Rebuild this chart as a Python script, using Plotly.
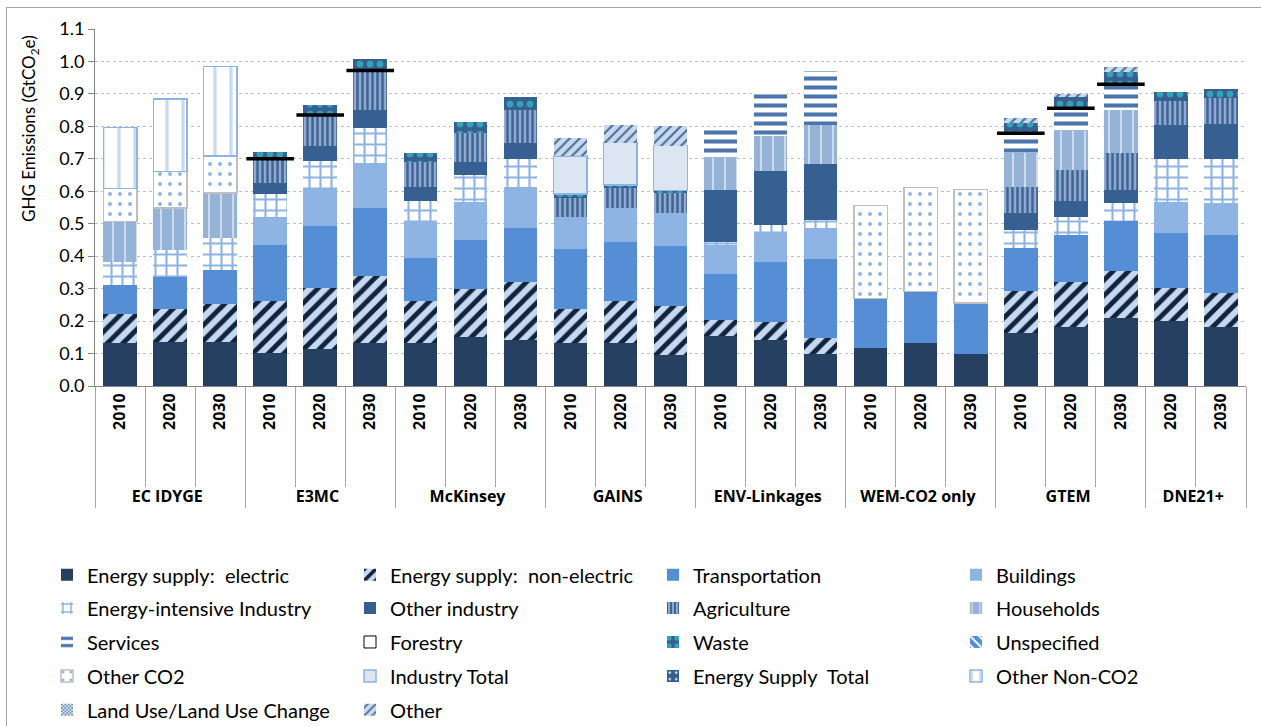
import plotly.graph_objects as go

# categories
models = ["EC IDYGE"] * 3 + ["E3MC"] * 3 + ["McKinsey"] * 3 + ["GAINS"] * 3 + \
    ["ENV-Linkages"] * 3 + ["WEM-CO2 only"] * 3 + ["GTEM"] * 3 + ["DNE21+"] * 2
years = ["2010", "2020", "2030"] * 7 + ["2020", "2030"]

N = None
# segment heights (GtCO2e), one value per bar
electric = [0.132, 0.136, 0.137, 0.101, 0.115, 0.132, 0.132, 0.152, 0.142, 0.132, 0.132, 0.096,
            0.154, 0.142, 0.098, 0.116, 0.132, 0.098, 0.162, 0.181, 0.208, 0.201, 0.183]
non_electric = [0.090, 0.101, 0.116, 0.162, 0.188, 0.207, 0.131, 0.146, 0.177, 0.106, 0.131, 0.152,
                0.049, 0.056, 0.050, N, N, N, 0.132, 0.138, 0.147, 0.102, 0.105]
transportation = [0.089, 0.100, 0.105, 0.172, 0.191, 0.211, 0.131, 0.152, 0.167, 0.183, 0.182, 0.182,
                  0.141, 0.183, 0.243, 0.154, 0.159, 0.157, 0.130, 0.146, 0.152, 0.168, 0.176]
buildings = [N, N, N, 0.087, 0.112, 0.138, 0.113, 0.116, 0.126, 0.101, 0.102, 0.102,
             0.091, 0.095, 0.097, N, N, N, N, N, N, 0.095, 0.099]
energy_intensive = [0.072, 0.082, 0.097, 0.070, 0.088, 0.106, 0.064, 0.083, 0.087, N, N, N,
                    0.010, 0.020, 0.024, N, N, N, 0.057, 0.057, 0.056, 0.134, 0.137]
other_industry = [N, N, N, 0.035, 0.044, 0.055, 0.041, 0.040, 0.049, N, N, N,
                  0.159, 0.167, 0.172, N, N, N, 0.051, 0.049, 0.041, 0.105, 0.108]
agriculture = [N, N, N, 0.072, 0.098, 0.122, 0.078, 0.092, 0.103, 0.057, 0.062, 0.062,
               N, N, N, N, N, N, 0.081, 0.095, 0.115, 0.072, 0.078]
households = [0.124, 0.129, 0.139, N, N, N, N, N, N, N, N, N,
              0.098, 0.108, 0.121, N, N, N, 0.106, 0.120, 0.132, N, N]
services = [N, N, N, N, N, N, N, N, N, N, N, N,
            0.090, 0.131, 0.167, N, N, N, 0.055, 0.070, 0.079, N, N]
waste = [N, N, N, 0.023, 0.029, 0.036, 0.027, 0.034, 0.039, 0.013, 0.011, 0.008,
         N, N, N, N, N, N, 0.036, 0.033, 0.036, 0.028, 0.030]
other_co2 = [0.102, 0.113, 0.115, N, N, N, N, N, N, N, N, N,
             N, N, N, 0.286, 0.321, 0.351, N, N, N, N, N]
industry_total = [N, N, N, N, N, N, N, N, N, 0.117, 0.130, 0.139,
                  N, N, N, N, N, N, N, N, N, N, N]
other_non_co2 = [0.188, 0.223, 0.276, N, N, N, N, N, N, N, N, N,
                 N, N, N, N, N, N, N, N, N, N, N]
other = [N, N, N, N, N, N, N, N, N, 0.055, 0.055, 0.059,
         N, N, N, N, N, N, 0.015, 0.011, 0.017, N, N]
empty = [N] * 23
# black reference marks
marks = [N, N, N, 0.700, 0.835, 0.972, N, N, N, N, N, N,
         N, N, N, N, N, N, 0.779, 0.856, 0.930, N, N]

# pad year labels so the model names sit lower, as in the original
year_labels = ["\u00a0" * 10 + y for y in years]
xcat = [models, year_labels]

fig = go.Figure()
count = [0]


def add(name, vals, color, shape="", fg=None, size=8, solidity=0.3, lc=None, lw=0):
    # four legend entries per row, each row is its own legend
    row = count[0] // 4
    count[0] += 1
    fig.add_trace(go.Bar(
        x=xcat, y=vals, name=name,
        legend="legend" if row == 0 else "legend%d" % (row + 1),
        marker=dict(color=color,
                    pattern=dict(shape=shape, fgcolor=fg, bgcolor=color, size=size,
                                 solidity=solidity, fillmode="replace") if shape else None,
                    line=dict(color=lc or color, width=lw))))


add("Energy supply:  electric", electric, "#254061")
add("Energy supply:  non-electric", non_electric, "#C6D9F1", "/", "#10243E", 11, 0.45)
add("Transportation", transportation, "#558ED5")
add("Buildings", buildings, "#8EB4E3")
add("Energy-intensive Industry", energy_intensive, "white", "+", "#8EB4E3", 11, 0.35)
add("Other industry", other_industry, "#376092")
add("Agriculture", agriculture, "#8FA9CF", "|", "#3E6596", 5, 0.5)
add("Households", households, "#95B3D7", "|", "#D4E0F0", 12, 0.15)
add("Services", services, "white", "-", "#4A76AD", 9, 0.45)
add("Forestry", empty, "white", lc="black", lw=1)
add("Waste", waste, "#376092", ".", "#33A3B5", 10, 0.35)
add("Unspecified", empty, "#558ED5", "\\", "white", 8, 0.3)
add("Other CO2", other_co2, "white", ".", "#8EB4E3", 10, 0.12, "#BFBFBF", 1.5)
add("Industry Total", industry_total, "#DCE6F2", lc="#8EB4E3", lw=1.5)
add("Energy Supply  Total", empty, "#376092", ".", "white", 8, 0.1)
add("Other Non-CO2", other_non_co2, "white", "|", "#C6D9F1", 16, 0.2, "#8EB4E3", 1.5)
add("Land Use/Land Use Change", empty, "#DCE6F2", "x", "#376092", 3, 0.4)
add("Other", other, "#C6D9F1", "/", "#4F6F94", 7, 0.3)

fig.add_trace(go.Scatter(
    x=xcat, y=marks, mode="markers", showlegend=False, hoverinfo="skip",
    marker=dict(symbol="line-ew", size=34, line=dict(color="black", width=3.5))))

row_y = [-0.529, -0.622, -0.717, -0.812, -0.907]
legends = {}
for i, yy in enumerate(row_y):
    key = "legend" if i == 0 else "legend%d" % (i + 1)
    legends[key] = dict(orientation="h", x=-0.0417, y=yy, xanchor="left", yanchor="middle",
                        entrywidth=258, font=dict(size=20), itemwidth=30,
                        traceorder="normal", bgcolor="rgba(0,0,0,0)")

fig.update_layout(
    width=1261, height=726,
    barmode="stack", bargap=0.33,
    plot_bgcolor="white", paper_bgcolor="white",
    margin=dict(l=95, r=15, t=29, b=340, autoexpand=False),
    font=dict(family="Lato", size=16, color="black"),
    showlegend=True,
    **legends,
)
fig.update_yaxes(range=[0, 1.1], dtick=0.1, tickformat=".1f",
                 showgrid=True, gridcolor="#BFBFBF", griddash="dot",
                 showline=True, linecolor="#868686", ticks="outside", ticklen=6,
                 tickcolor="#868686", tickfont=dict(size=18))
fig.update_xaxes(type="multicategory", range=[-0.5, 22.5], showline=True, linecolor="#868686",
                 ticks="outside", tickson="boundaries", ticklen=100, tickcolor="#A6A6A6",
                 tickangle=-90, tickfont=dict(size=16, family="Open Sans", weight="bold"),
                 showdividers=True, dividercolor="#A6A6A6", dividerwidth=1)

fig.add_annotation(text="GHG Emissions (GtCO<sub>2</sub>e)", textangle=-90,
                   xref="paper", yref="paper", x=-0.0565, y=0.7227,
                   xanchor="center", yanchor="middle",
                   showarrow=False, font=dict(size=17))

# outer frame of the chart: a bordered empty box whose left and top edges show
fig.add_annotation(text=" ", xref="paper", yref="paper", x=-0.0773, y=1.0616,
                   xanchor="left", yanchor="top", showarrow=False,
                   width=1300, height=760, borderpad=0,
                   bordercolor="#A6A6A6", borderwidth=1)

fig.write_html("out.html", config={"displayModeBar": False},
               post_script="document.body.style.margin='0px';")
